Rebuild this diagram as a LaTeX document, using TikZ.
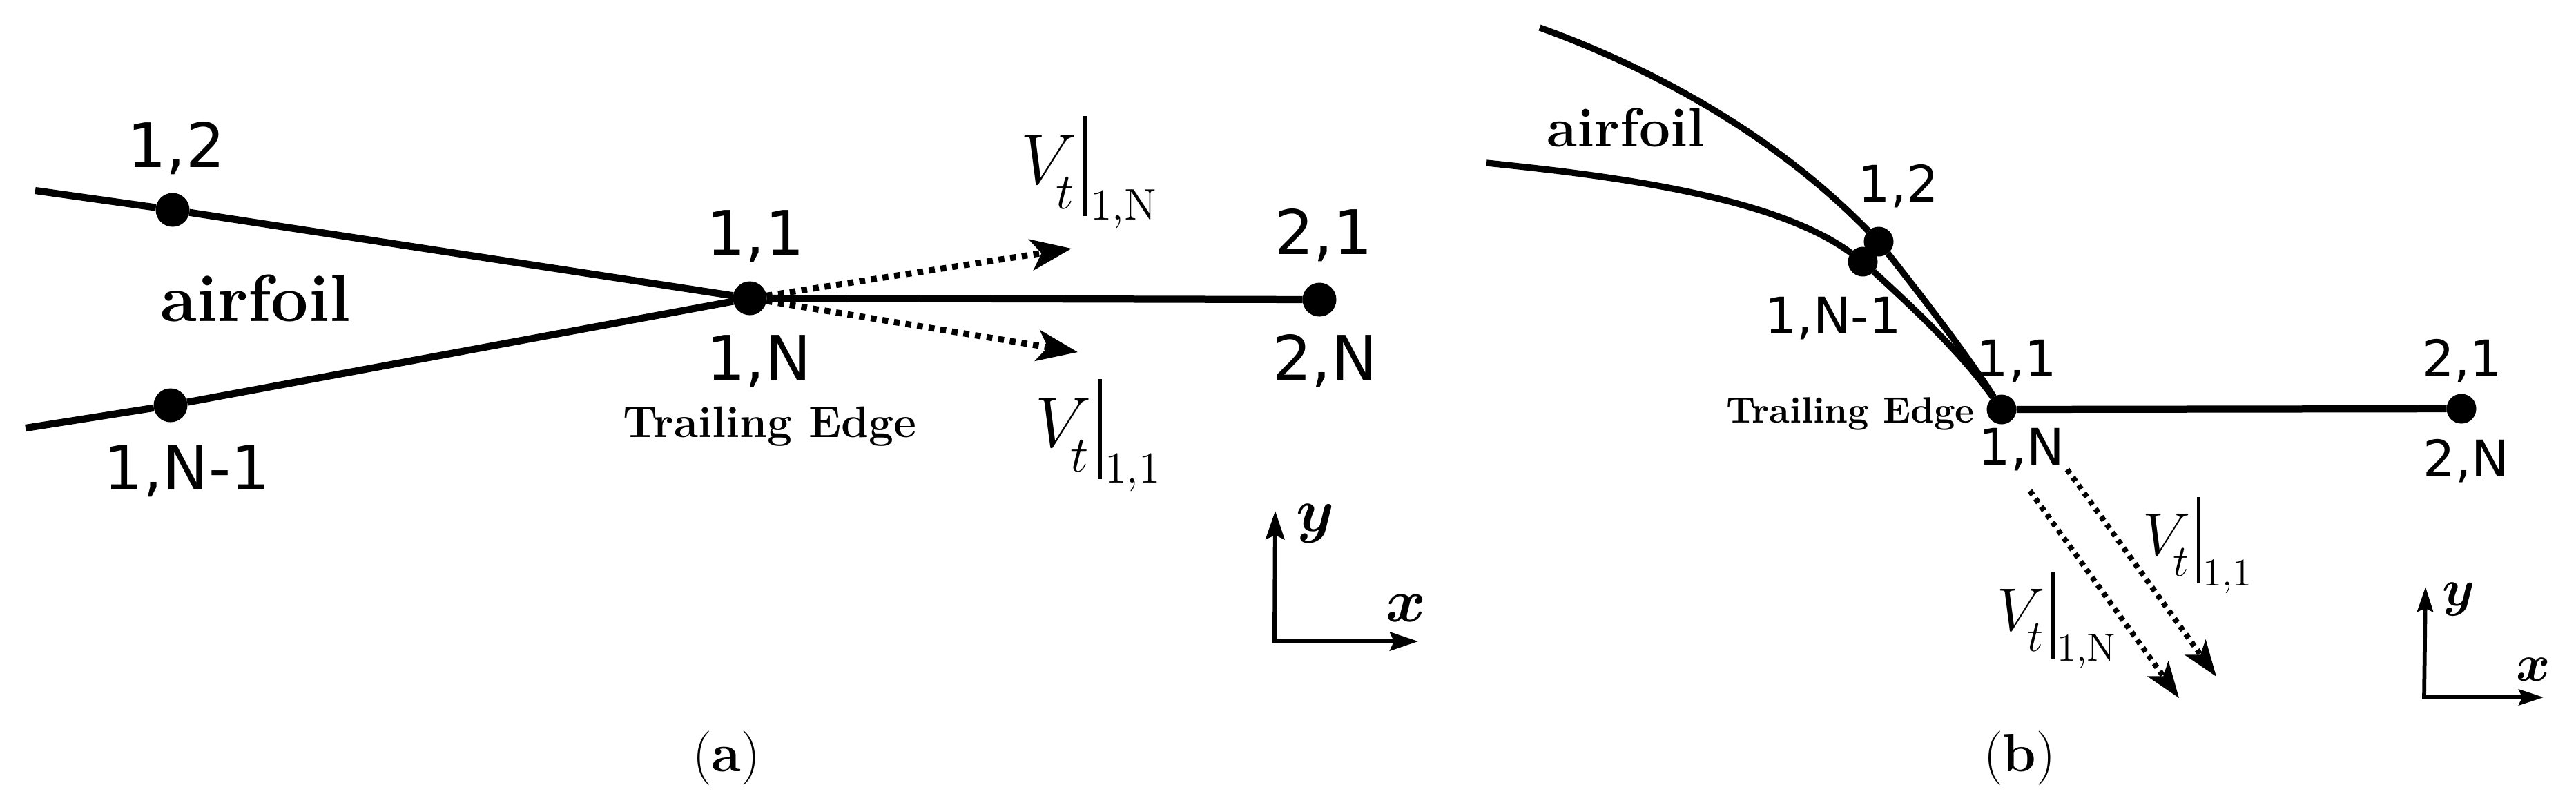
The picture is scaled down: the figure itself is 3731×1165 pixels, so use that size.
\RequirePackage{fix-cm}
\documentclass[tikz,border=0pt]{standalone}
\usepackage{amsmath}
\usepackage{fontspec}
\usetikzlibrary{arrows.meta}
\newfontfamily\labfont{DejaVu Sans}
\newcommand{\fsz}[1]{\fontsize{#1}{#1}\selectfont}
% V_t|_{sub}: main size, t size, subscript size, subscript
\newcommand{\vtlab}[4]{\fsz{#1}$V$\kern-.285em\raisebox{-.35em}{\fsz{#2}$t$}\kern.13em\rule[-.46em]{.058em}{1.41em}\kern.04em\raisebox{-.51em}{\fsz{#3}#4}}
\tikzset{
  every node/.style={inner sep=0pt,outer sep=0pt},
  ptA/.style={circle,fill=black,minimum size=9.8pt},
  ptB/.style={circle,fill=black,minimum size=8.6pt},
  labA/.style={anchor=base,font=\labfont\fsz{17.8}},
  labB/.style={anchor=base,font=\labfont\fsz{14.6}},
  foilA/.style={anchor=base,font=\bfseries\fsz{19.3}},
  foilB/.style={anchor=base,font=\bfseries\fsz{16}},
  teA/.style={anchor=base,font=\bfseries\fsz{12.8}},
  teB/.style={anchor=base,font=\bfseries\fsz{10.6}},
  vlab/.style={anchor=base west},
  capt/.style={anchor=base,font=\fsz{15.6}},
  lineA/.style={line width=2.05pt},
  lineB/.style={line width=1.85pt},
  dotA/.style={line width=1.8pt,dash pattern=on 1.7pt off 1.7pt,-{Stealth[length=11.8pt,width=9pt,inset=3pt]}},
  dotB/.style={line width=1.6pt,dash pattern=on 1.4pt off 1.4pt,-{Stealth[length=10.4pt,width=7.4pt,inset=2.6pt]}},
  axA/.style={line width=1.2pt,-{Stealth[length=8.2pt,width=5.4pt,inset=1.2pt]}},
  axB/.style={line width=1.15pt,-{Stealth[length=7.2pt,width=4.6pt,inset=1pt]}},
  axlabA/.style={anchor=base,font=\fsz{17.6}},
  axlabB/.style={anchor=base,font=\fsz{15}}
}
\begin{document}
\begin{tikzpicture}[x=0.2pt,y=-0.2pt]
\path[use as bounding box,fill=white] (0,0) rectangle (3731,1165);
% ---------- (a) ----------
\coordinate (a1) at (51,276);
\coordinate (a2) at (37,620);
\node[ptA] (a12) at (250,304) {};
\node[ptA] (aN1) at (247,587) {};
\node[ptA] (aTE) at (1086,432) {};
\node[ptA] (a21) at (1911,434) {};
\coordinate (aTip1) at (1552,360);
\coordinate (aTip2) at (1561,510);
\draw[lineA] (a1) -- (a12) -- (aTE);
\draw[lineA] (a2) -- (aN1) -- (aTE);
\draw[lineA] (aTE) -- (a21);
\draw[dotA] (aTE) -- (aTip1);
\draw[dotA] (aTE) -- (aTip2);
\node[labA] (la12) at (255,242) {1,2};
\node[labA] (la11) at (1094,369) {1,1};
\node[labA] (la1N) at (1099,550) {1,N};
\node[labA] (laN1) at (271,709) {1,N-1};
\node[labA] (la21) at (1917,368) {2,1};
\node[labA] (la2N) at (1919,550) {2,N};
\node[foilA] (afoil) at (370,465) {airfoil};
\node[teA] (aTEl) at (1115,633) {Trailing Edge};
\node[vlab] (aV1) at (1478,266) {\vtlab{20.6}{14.8}{12.8}{1,N}};
\node[vlab] (aV2) at (1499,647) {\vtlab{20.6}{14.8}{12.8}{1,1}};
\coordinate (aO) at (1846,929);
\coordinate (aY) at (1847,740);
\coordinate (aX) at (2054,929);
\draw[axA] (aO) -- (aY);
\draw[axA,shorten <=-0.55pt] (aO) -- (aX);
\node[axlabA] (ayl) at (1905,769) {$\boldsymbol{y}$};
\node[axlabA] (axl) at (2036,900) {$\boldsymbol{x}$};
\node[capt] (capa) at (1052,1117) {(\textbf{a})};
% ---------- (b) ----------
\coordinate (b1) at (2230,40);
\coordinate (b2) at (2153,236);
\node[ptB] (b12) at (2721,350) {};
\node[ptB] (bN1) at (2698,379) {};
\node[ptB] (bTE) at (2899,593) {};
\node[ptB] (b21) at (3565,592) {};
\draw[lineB] (b1) .. controls (2410,105) and (2580,205) .. (b12);
\draw[lineB] (b12) .. controls (2780,425) and (2850,515) .. (bTE);
\draw[lineB] (b2) .. controls (2340,255) and (2570,285) .. (bN1);
\draw[lineB] (bN1) .. controls (2770,445) and (2840,510) .. (bTE);
\draw[lineA] (bTE) -- (b21);
\coordinate (bS1) at (2994,680);
\coordinate (bT1) at (3210,980);
\coordinate (bS2) at (2940,711);
\coordinate (bT2) at (3156,1011);
\draw[dotB] (bS1) -- (bT1);
\draw[dotB] (bS2) -- (bT2);
\node[labB] (lb12) at (2750,292) {1,2};
\node[labB] (lbN1) at (2655,483) {1,N-1};
\node[labB] (lb11) at (2921,545) {1,1};
\node[labB] (lb1N) at (2928,673) {1,N};
\node[labB] (lb21) at (3566,545) {2,1};
\node[labB] (lb2N) at (3572,690) {2,N};
\node[foilB] (bfoil) at (2355,212) {airfoil};
\node[teB] (bTEl) at (2680,612) {Trailing Edge};
\node[vlab] (bV1) at (3103,804) {\vtlab{17.6}{13}{11.4}{1,1}};
\node[vlab] (bV2) at (2892,913) {\vtlab{17.6}{13}{11.4}{1,N}};
\coordinate (bO) at (3511,1010);
\coordinate (bY) at (3513,850);
\coordinate (bX) at (3684,1010);
\draw[axB] (bO) -- (bY);
\draw[axB,shorten <=-0.55pt] (bO) -- (bX);
\node[axlabB] (byl) at (3561,877) {$\boldsymbol{y}$};
\node[axlabB] (bxl) at (3669,986) {$\boldsymbol{x}$};
\node[capt] (capb) at (2925,1117) {(\textbf{b})};
\end{tikzpicture}
\end{document}
